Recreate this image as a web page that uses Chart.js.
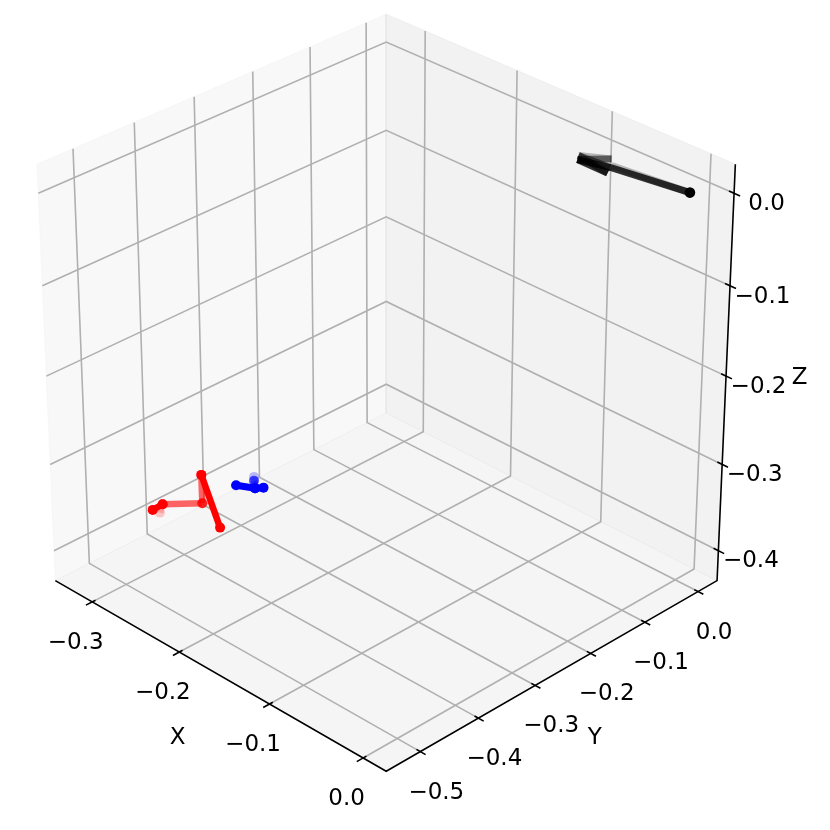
<!DOCTYPE html>
<html>
<head>
<meta charset="utf-8">
<style>
  html, body { margin: 0; padding: 0; background: #fff; }
  canvas { display: block; }
</style>
<script src="https://cdn.jsdelivr.net/npm/chart.js@4"></script>
</head>
<body>
<canvas id="chart" width="830" height="830"></canvas>
<script>
// axis limits of the 3d box
const xLim = [-0.3435, 0.0241];
const yLim = [-0.5577, 0.0363];
const zLim = [-0.4352, 0.031];

const xTicks = [-0.3, -0.2, -0.1, 0.0];
const yTicks = [-0.5, -0.4, -0.3, -0.2, -0.1, 0.0];
const zTicks = [-0.4, -0.3, -0.2, -0.1, 0.0];
const xTickLabels = ['−0.3', '−0.2', '−0.1', '0.0'];
const yTickLabels = ['−0.5', '−0.4', '−0.3', '−0.2', '−0.1', '0.0'];
const zTickLabels = ['−0.4', '−0.3', '−0.2', '−0.1', '0.0'];

// joints
const redX = [-0.2335, -0.2253, -0.2091, -0.2465, -0.2503, -0.2457];
const redY = [-0.4647, -0.4762, -0.4713, -0.5113, -0.5225, -0.5173];
const redZ = [-0.2835, -0.3073, -0.3278, -0.3082, -0.3129, -0.3152];
const redSolid = [[0, 2], [3, 4]];
const redFaint = [[0, 1], [1, 3]];
const redGhost = [[3, 5]];

const blueX = [-0.2119, -0.2008, -0.1964, -0.2034, -0.2044];
const blueY = [-0.4388, -0.4235, -0.4159, -0.4212, -0.4194];
const blueZ = [-0.2922, -0.2947, -0.2942, -0.2885, -0.2852];
const blueSolid = [[0, 1], [1, 2]];
const blueFaint = [[1, 3]];
const blueGhost = [[3, 4]];

const blackX = [0, -0.0953, -0.0954, -0.1159, -0.1154, -0.0971, -0.0954];
const blackY = [0, 0.0275, 0.0293, 0.0048, 0.0021, 0.0321, 0.0225];
const blackZ = [0, -0.0253, -0.0236, -0.0152, -0.0186, -0.0182, -0.0299];
const blackSolid = [[0, 1], [1, 4], [6, 4]];
const blackFaint = [[1, 3], [6, 3], [5, 4]];
const blackGhost = [[0, 2], [5, 3]];

// camera
const elev = 30 * Math.PI / 180;
const azim = -45 * Math.PI / 180;
const dist = 9.3, focal = 480.5, cx = 386.2, cy = 378;

function project(x, y, z) {
  const px = (x - xLim[0]) / (xLim[1] - xLim[0]) - 0.5;
  const py = (y - yLim[0]) / (yLim[1] - yLim[0]) - 0.5;
  const pz = (z - zLim[0]) / (zLim[1] - zLim[0]) - 0.5;
  const ce = Math.cos(elev), se = Math.sin(elev), ca = Math.cos(azim), sa = Math.sin(azim);
  const right = -sa * px + ca * py;
  const up = -se * ca * px - se * sa * py + ce * pz;
  const depth = ce * ca * px + ce * sa * py + se * pz;
  const s = focal / (1 - depth / dist);
  return { x: cx + s * right, y: cy - s * up };
}

const datasets = [];

function addPath(pts, opts) {
  datasets.push(Object.assign({
    data: pts.map(p => project(p[0], p[1], p[2])),
    showLine: true,
    pointRadius: 0,
    borderWidth: 1.6,
    borderColor: '#000',
    backgroundColor: 'transparent',
    fill: false
  }, opts));
}

const [x0, x1] = xLim, [y0, y1] = yLim, [z0, z1] = zLim;

// panes
addPath([[x0, y0, z0], [x0, y1, z0], [x0, y1, z1], [x0, y0, z1], [x0, y0, z0]],
  { fill: 'shape', backgroundColor: 'rgba(242,242,242,0.5)', borderColor: 'rgba(242,242,242,0.5)', borderWidth: 1 });
addPath([[x0, y1, z0], [x1, y1, z0], [x1, y1, z1], [x0, y1, z1], [x0, y1, z0]],
  { fill: 'shape', backgroundColor: 'rgba(230,230,230,0.5)', borderColor: 'rgba(230,230,230,0.5)', borderWidth: 1 });
addPath([[x0, y0, z0], [x1, y0, z0], [x1, y1, z0], [x0, y1, z0], [x0, y0, z0]],
  { fill: 'shape', backgroundColor: 'rgba(236,236,236,0.5)', borderColor: 'rgba(236,236,236,0.5)', borderWidth: 1 });

// grid
const gridStyle = { borderColor: '#b0b0b0', borderWidth: 1.6 };
xTicks.forEach(t => addPath([[t, y0, z0], [t, y1, z0], [t, y1, z1]], gridStyle));
yTicks.forEach(t => addPath([[x1, t, z0], [x0, t, z0], [x0, t, z1]], gridStyle));
zTicks.forEach(t => addPath([[x0, y0, t], [x0, y1, t], [x1, y1, t]], gridStyle));

// axis lines and tick marks
addPath([[x0, y0, z0], [x1, y0, z0], [x1, y1, z0], [x1, y1, z1]], {});
xTicks.forEach(t => addPath([[t, y0 - 0.0107, z0], [t, y0 + 0.0055, z0]], {}));
yTicks.forEach(t => addPath([[x1 - 0.004, t, z0], [x1 + 0.0055, t, z0]], {}));
zTicks.forEach(t => addPath([[x1 - 0.005, y1, t], [x1 + 0.006, y1, t]], {}));

function addLinks(links, xs, ys, zs, color, width, radius) {
  links.forEach(([a, b]) => addPath(
    [[xs[a], ys[a], zs[a]], [xs[b], ys[b], zs[b]]],
    { borderColor: color, borderWidth: width, borderCapStyle: 'butt',
      pointRadius: radius, pointBackgroundColor: color, pointBorderWidth: 0 }
  ));
}

addLinks(blackGhost, blackX, blackY, blackZ, 'rgba(0,0,0,0.25)', 7, 0);
addLinks(blackFaint, blackX, blackY, blackZ, 'rgba(0,0,0,0.5)', 7, 0);
addLinks(blackSolid, blackX, blackY, blackZ, 'rgba(0,0,0,0.8)', 7, 0);
addPath([[blackX[0], blackY[0], blackZ[0]]], { showLine: false, pointRadius: 5.3, pointBackgroundColor: '#000', pointBorderWidth: 0 });

addLinks(blueGhost, blueX, blueY, blueZ, 'rgba(0,0,255,0.25)', 7, 5);
addLinks(blueFaint, blueX, blueY, blueZ, 'rgba(0,0,255,0.55)', 7, 5);
addLinks(blueSolid, blueX, blueY, blueZ, 'rgb(0,0,255)', 7, 5);

addLinks(redGhost, redX, redY, redZ, 'rgba(255,0,0,0.2)', 6.5, 5);
addLinks(redFaint, redX, redY, redZ, 'rgba(255,0,0,0.6)', 6.5, 5);
addLinks(redSolid, redX, redY, redZ, 'rgb(255,0,0)', 6.5, 5);

// chart.js paints the first dataset on top, ours are pushed in paint order
datasets.forEach((d, i) => { d.order = -i; d.clip = false; });

const axisText = {
  id: 'axisText',
  afterDatasetsDraw(chart) {
    const ctx = chart.ctx, sx = chart.scales.x, sy = chart.scales.y;
    ctx.save();
    ctx.font = '23px "DejaVu Sans"';
    ctx.fillStyle = '#000';
    ctx.textAlign = 'center';
    ctx.textBaseline = 'middle';
    const put = (txt, p, ox, oy) => ctx.fillText(txt, sx.getPixelForValue(p.x) + ox, sy.getPixelForValue(p.y) + oy);
    xTicks.forEach((t, i) => put(xTickLabels[i], project(t, y0, z0), -16.5, 41));
    yTicks.forEach((t, i) => put(yTickLabels[i], project(x1, t, z0), 16, 41));
    zTicks.forEach((t, i) => put(zTickLabels[i], project(x1, y1, t), 32.5, 10.8));
    // axis names sit at the middle of their edges
    put('X', project((x0 + x1) / 2, y0, z0), -37.7, 65);
    put('Y', project(x1, (y0 + y1) / 2, z0), 37.7, 65);
    put('Z', project(x1, y1, (z0 + z1) / 2), 73.6, 0.2);
    ctx.restore();
  }
};

new Chart(document.getElementById('chart'), {
  type: 'scatter',
  data: { datasets },
  options: {
    responsive: false,
    animation: false,
    layout: { padding: 0, autoPadding: false },
    plugins: { legend: { display: false }, tooltip: { enabled: false }, title: { display: false } },
    scales: {
      x: { type: 'linear', min: 0, max: 830, display: false },
      y: { type: 'linear', min: 0, max: 830, reverse: true, display: false }
    }
  },
  plugins: [axisText]
});
</script>
</body>
</html>
